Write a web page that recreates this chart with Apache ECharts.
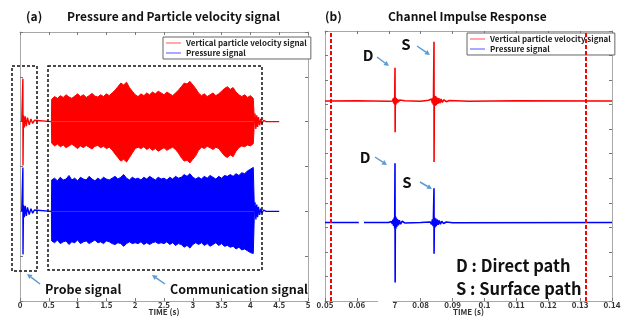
<!DOCTYPE html>
<html>
<head>
<meta charset="utf-8">
<script src="https://cdn.jsdelivr.net/npm/echarts/dist/echarts.min.js"></script>
<style>html,body{margin:0;padding:0;background:#fff}#chart{width:623px;height:320px}</style>
</head>
<body>
<div id="chart"></div>
<script>
var RED = 'Vertical particle velocity signal';
var BLUE = 'Pressure signal';
var F = '"Noto Sans CJK KR"';

// ---- (a) pressure and particle velocity, offsets of the two traces
var redOffset = 1, blueOffset = -1;

// probe pulse
var probeTime = [0.03, 0.047, 0.05, 0.052, 0.06, 0.075, 0.09, 0.11, 0.13, 0.16, 0.19, 0.22, 0.25, 0.28, 0.545];
var redProbe  = [0, 0, 0.96, -0.98, 0.14, -0.13, 0.12, -0.10, 0.09, -0.07, 0.06, -0.04, 0.03, 0, 0];
var blueProbe = [0, 0, 0.98, -0.96, 0.14, -0.13, 0.12, -0.10, 0.09, -0.07, 0.06, -0.04, 0.03, 0, 0];

// communication signal envelope (upper / lower magnitude)
var commTime = [0.545,
  0.55, 0.6, 0.65, 0.7, 0.75, 0.8, 0.85, 0.9, 0.95, 1.0,
  1.05, 1.1, 1.15, 1.2, 1.25, 1.3, 1.35, 1.4, 1.45, 1.5,
  1.55, 1.6, 1.65, 1.7, 1.75, 1.8, 1.85, 1.9, 1.95, 2.0,
  2.05, 2.1, 2.15, 2.2, 2.25, 2.3, 2.35, 2.4, 2.45, 2.5,
  2.55, 2.6, 2.65, 2.7, 2.75, 2.8, 2.85, 2.9, 2.95, 3.0,
  3.05, 3.1, 3.15, 3.2, 3.25, 3.3, 3.35, 3.4, 3.45, 3.5,
  3.55, 3.6, 3.65, 3.7, 3.75, 3.8, 3.85, 3.9, 3.95, 4.0,
  4.05, 4.07];
var redTop = [0,
  0.50, 0.56, 0.52, 0.58, 0.54, 0.60, 0.55, 0.52, 0.57, 0.62,
  0.56, 0.60, 0.54, 0.58, 0.63, 0.57, 0.55, 0.60, 0.56, 0.62,
  0.58, 0.64, 0.70, 0.78, 0.86, 0.82, 0.88, 0.76, 0.68, 0.60,
  0.56, 0.62, 0.58, 0.64, 0.60, 0.66, 0.62, 0.68, 0.64, 0.60,
  0.66, 0.62, 0.58, 0.64, 0.70, 0.78, 0.86, 0.84, 0.90, 0.82,
  0.74, 0.64, 0.58, 0.62, 0.56, 0.60, 0.64, 0.58, 0.62, 0.68,
  0.74, 0.78, 0.72, 0.76, 0.66, 0.60, 0.56, 0.60, 0.54, 0.58,
  0.52, 0];
var redBottom = [0,
  0.48, 0.54, 0.50, 0.56, 0.52, 0.58, 0.54, 0.50, 0.55, 0.60,
  0.54, 0.58, 0.53, 0.57, 0.61, 0.55, 0.53, 0.58, 0.55, 0.60,
  0.57, 0.63, 0.72, 0.80, 0.88, 0.84, 0.90, 0.80, 0.70, 0.60,
  0.57, 0.60, 0.56, 0.62, 0.58, 0.64, 0.60, 0.66, 0.62, 0.58,
  0.64, 0.60, 0.57, 0.62, 0.70, 0.80, 0.88, 0.86, 0.92, 0.84,
  0.76, 0.64, 0.57, 0.60, 0.55, 0.58, 0.62, 0.57, 0.60, 0.68,
  0.76, 0.80, 0.74, 0.78, 0.66, 0.58, 0.54, 0.56, 0.52, 0.54,
  0.49, 0];
var blueTop = [0,
  0.70, 0.74, 0.68, 0.76, 0.70, 0.72, 0.80, 0.70, 0.74, 0.68,
  0.76, 0.72, 0.70, 0.78, 0.72, 0.68, 0.74, 0.70, 0.76, 0.72,
  0.70, 0.74, 0.78, 0.72, 0.76, 0.82, 0.74, 0.70, 0.76, 0.72,
  0.74, 0.70, 0.76, 0.72, 0.78, 0.74, 0.70, 0.76, 0.72, 0.74,
  0.70, 0.76, 0.72, 0.78, 0.74, 0.76, 0.82, 0.78, 0.84, 0.76,
  0.72, 0.76, 0.72, 0.78, 0.74, 0.80, 0.76, 0.72, 0.78, 0.74,
  0.80, 0.78, 0.82, 0.78, 0.84, 0.80, 0.86, 0.84, 0.90, 0.94,
  0.98, 0];
var blueBottom = [0,
  0.66, 0.70, 0.64, 0.72, 0.68, 0.66, 0.74, 0.68, 0.70, 0.64,
  0.72, 0.68, 0.66, 0.72, 0.68, 0.64, 0.70, 0.68, 0.72, 0.66,
  0.68, 0.72, 0.74, 0.70, 0.72, 0.78, 0.72, 0.68, 0.72, 0.70,
  0.72, 0.68, 0.74, 0.70, 0.74, 0.70, 0.68, 0.72, 0.70, 0.72,
  0.68, 0.74, 0.70, 0.76, 0.72, 0.74, 0.80, 0.76, 0.82, 0.74,
  0.70, 0.74, 0.70, 0.76, 0.72, 0.78, 0.74, 0.70, 0.76, 0.72,
  0.78, 0.76, 0.80, 0.78, 0.84, 0.80, 0.86, 0.84, 0.88, 0.92,
  0.94, 0];

// ringing after the end of the message
var tailTime = [4.07, 4.08, 4.095, 4.11, 4.125, 4.14, 4.16, 4.18, 4.2, 4.23, 4.27, 4.5];
var redTail  = [0, 0.18, -0.16, 0.14, -0.12, 0.10, -0.08, 0.06, -0.04, 0.03, 0, 0];
var blueTail = [0, 0.20, -0.18, 0.15, -0.13, 0.10, -0.08, 0.06, -0.04, 0.03, 0, 0];

// ---- (b) channel impulse response
var redCirOffset = 2.15, blueCirOffset = -2.8;
var redCirTime = [0.05, 0.06, 0.07, 0.0712, 0.0714, 0.07155, 0.0717, 0.07185, 0.07195, 0.0720,
  0.07205, 0.0722, 0.07235, 0.0725, 0.0727, 0.0730, 0.0734, 0.0740, 0.0750, 0.0800,
  0.0825, 0.0830, 0.0834, 0.0837, 0.0839, 0.0840, 0.08418, 0.0842, 0.0843, 0.0845,
  0.0847, 0.0849, 0.0851, 0.0854, 0.0857, 0.0860, 0.0864, 0.0868, 0.0873, 0.0880,
  0.0890, 0.0950, 0.1100, 0.1400];
var redCir = [0, 0.01, -0.01, 0, 0.10, -0.10, 0.14, -0.14, 1.35, -1.27,
  0.17, -0.15, 0.12, -0.10, 0.07, -0.05, 0.04, -0.03, 0.01, -0.01,
  0.03, -0.04, 0.08, -0.10, 0.14, -0.16, 2.41, -2.49, 0.22, -0.20,
  0.20, -0.17, 0.15, -0.12, 0.11, -0.09, 0.08, -0.06, 0.05, -0.03,
  0.02, -0.01, 0.01, 0];
var blueCirTime = [0.05, 0.0606, 0.0614, 0.0622, 0.07, 0.0708, 0.0711, 0.0713, 0.0715, 0.0717,
  0.07185, 0.07195, 0.0720, 0.07205, 0.0722, 0.07235, 0.0725, 0.0727, 0.0730, 0.0733,
  0.0737, 0.0742, 0.0750, 0.08, 0.083, 0.0834, 0.0837, 0.0839, 0.0840, 0.08418,
  0.0842, 0.0843, 0.0845, 0.0847, 0.0849, 0.0852, 0.0855, 0.0858, 0.0862, 0.0866,
  0.0872, 0.0880, 0.09, 0.14];
var blueCir = [0, 0, '-', 0, 0, 0.04, -0.06, 0.12, -0.14, 0.20,
  -0.24, 2.41, -2.45, 0.26, -0.26, 0.20, -0.18, 0.14, -0.12, 0.09,
  -0.07, 0.05, -0.02, 0, 0.02, -0.08, 0.12, -0.15, 0.17, 1.39,
  -1.27, 0.21, -0.20, 0.17, -0.15, 0.12, -0.10, 0.08, -0.07, 0.05,
  -0.04, 0.02, -0.01, 0];
var windowLines = [0.05188, 0.13184];

function pairs(ts, vs, off, sign) {
  sign = sign || 1;
  return ts.map(function (t, i) { return [t, vs[i] === '-' ? '-' : off + sign * vs[i]]; });
}

var GRAY = '#a8a8a8', TICK = '#777', ARROW = '#5b9bd5';

function xAx(grid, pos, min, max, step, labels) {
  var a = {
    gridIndex: grid, type: 'value', position: pos, min: min, max: max, interval: step,
    axisLine: { onZero: false, lineStyle: { color: GRAY, width: 1 } },
    axisTick: { inside: true, length: 3, lineStyle: { color: TICK } },
    splitLine: { show: false },
    axisLabel: { show: labels, fontSize: 8, fontWeight: 'bold', color: '#333', margin: 0, fontFamily: F,
      formatter: function (v) { return String(+v.toFixed(2)); } }
  };
  if (labels) {
    a.name = 'TIME (s)'; a.nameLocation = 'middle'; a.nameGap = 7; a.nameMoveOverlap = false;
    a.nameTextStyle = { fontSize: 8, fontWeight: 'bold', color: '#333', fontFamily: F };
  }
  return a;
}
function yAx(grid, pos, min, max) {
  return {
    gridIndex: grid, type: 'value', position: pos, min: min, max: max, interval: 1,
    axisLine: { onZero: false, lineStyle: { color: GRAY, width: 1 } },
    axisTick: { inside: true, length: 3, lineStyle: { color: TICK } },
    splitLine: { show: false }, axisLabel: { show: false }
  };
}

function lineSeries(name, x, y, data, color, width) {
  return { name: name, type: 'line', xAxisIndex: x, yAxisIndex: y, data: data, symbol: 'none',
    silent: true, itemStyle: { color: color }, lineStyle: { color: color, width: width } };
}
function band(name, data, color, origin) {
  var s = lineSeries(name, 0, 0, data, color, 1);
  s.areaStyle = { color: color, opacity: 1, origin: origin };
  return s;
}

function arrow(x1, y1, x2, y2) {
  var dx = x2 - x1, dy = y2 - y1, L = Math.sqrt(dx * dx + dy * dy), ux = dx / L, uy = dy / L, h = 5, w = 2.6;
  var bx = x2 - ux * h, by = y2 - uy * h;
  return { type: 'group', silent: true, children: [
    { type: 'line', z: 100, shape: { x1: x1, y1: y1, x2: bx, y2: by }, style: { stroke: ARROW, lineWidth: 1.5 } },
    { type: 'polygon', z: 100, shape: { points: [[x2, y2], [bx - uy * w, by + ux * w], [bx + uy * w, by - ux * w]] }, style: { fill: ARROW } }
  ] };
}
function label(txt, x, y, size, align) {
  return { type: 'text', z: 100, silent: true, style: { text: txt, x: x, y: y, fill: '#111',
    font: 'bold ' + size + 'px ' + F, align: align || 'left', textAlign: align || 'left',
    verticalAlign: 'middle', textVerticalAlign: 'middle' } };
}
function dashBox(x, y, w, h) {
  return { type: 'rect', z: 100, silent: true, shape: { x: x, y: y, width: w, height: h },
    style: { fill: 'none', stroke: '#111', lineWidth: 1.5, lineDash: [3, 2] } };
}

function legend(left, top) {
  return { left: left, top: top, orient: 'vertical', icon: 'rect', itemWidth: 15, itemHeight: 1.5, itemGap: 2,
    padding: [2, 4, 2, 3], borderColor: '#666', borderWidth: 1, backgroundColor: '#fff', selectedMode: false,
    textStyle: { fontSize: 8, fontWeight: 'bold', color: '#222', fontFamily: F },
    data: [{ name: RED, itemStyle: { color: '#ff8c8c' } }, { name: BLUE, itemStyle: { color: '#8c8cff' } }] };
}

var redCirSeries = lineSeries(RED, 2, 2, pairs(redCirTime, redCir, redCirOffset), '#ff0000', 1.6);
redCirSeries.markLine = { symbol: 'none', silent: true, label: { show: false }, animation: false, precision: 5,
  lineStyle: { color: '#ff0000', type: [4, 2], width: 2 },
  data: windowLines.map(function (v) { return { xAxis: v }; }) };

var option = {
  animation: false,
  backgroundColor: '#fff',
  grid: [
    { left: 20, top: 32, width: 288, height: 269, outerBoundsMode: 'none', containLabel: false },
    { left: 325, top: 31, width: 287, height: 270, outerBoundsMode: 'none', containLabel: false }
  ],
  xAxis: [
    xAx(0, 'bottom', 0, 5, 0.5, true), xAx(0, 'top', 0, 5, 0.5, false),
    xAx(1, 'bottom', 0.05, 0.14, 0.01, true), xAx(1, 'top', 0.05, 0.14, 0.01, false)
  ],
  yAxis: [
    yAx(0, 'left', -3, 3), yAx(0, 'right', -3, 3),
    yAx(1, 'left', -6, 5), yAx(1, 'right', -6, 5)
  ],
  legend: [legend(163, 37), legend(467, 33)],
  series: [
    band(RED, pairs(commTime, redTop, redOffset), '#ff0000', redOffset),
    band(RED, pairs(commTime, redBottom, redOffset, -1), '#ff0000', redOffset),
    band(BLUE, pairs(commTime, blueTop, blueOffset), '#0000ff', blueOffset),
    band(BLUE, pairs(commTime, blueBottom, blueOffset, -1), '#0000ff', blueOffset),
    lineSeries(RED, 0, 0, pairs(probeTime, redProbe, redOffset), '#ff0000', 1.4),
    lineSeries(BLUE, 0, 0, pairs(probeTime, blueProbe, blueOffset), '#0000ff', 1.4),
    lineSeries(RED, 0, 0, pairs(tailTime, redTail, redOffset), '#ff0000', 1.4),
    lineSeries(BLUE, 0, 0, pairs(tailTime, blueTail, blueOffset), '#0000ff', 1.4),
    redCirSeries,
    lineSeries(BLUE, 2, 2, pairs(blueCirTime, blueCir, blueCirOffset), '#0000ff', 1.6)
  ],
  graphic: [
    label('(a)', 26, 16, 12), label('Pressure and Particle velocity signal', 67, 16, 12),
    label('(b)', 325, 16, 12), label('Channel Impulse Response', 388, 16, 12),
    dashBox(12, 66, 25, 205), dashBox(48, 66, 214, 204),
    arrow(40, 284, 27, 274), arrow(165, 284, 152, 275),
    label('Probe signal', 45, 289, 12.5), label('Communication signal', 170, 289, 12.5),
    { type: 'rect', z: 100, silent: true, shape: { x: 378, y: 297, width: 14.5, height: 12 }, style: { fill: '#fff' } },
    label('D', 368, 55, 15, 'center'), arrow(377, 57, 389, 66),
    label('S', 406, 44, 15, 'center'), arrow(417, 46, 430, 55),
    label('D', 365, 157, 15, 'center'), arrow(375, 157, 387, 165),
    label('S', 407, 182, 15, 'center'), arrow(420, 182, 432, 189),
    label('D : Direct path', 456, 266, 16.5), label('S : Surface path', 456, 289, 16.5)
  ]
};

var chart = echarts.init(document.getElementById('chart'));
chart.setOption(option);
</script>
</body>
</html>
